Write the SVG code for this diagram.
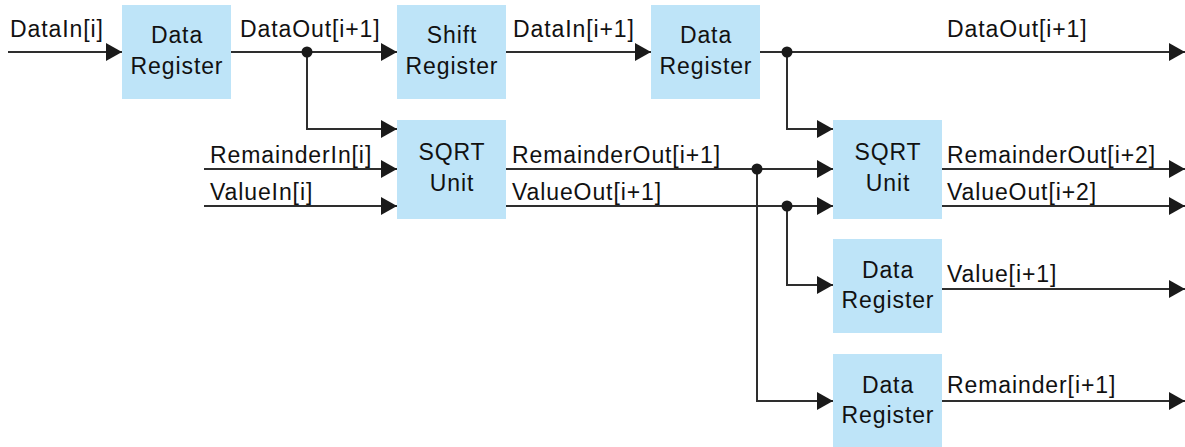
<svg xmlns="http://www.w3.org/2000/svg" width="1185" height="447" viewBox="0 0 1185 447">
  <style>
    .box { fill: #bee4f8; }
    .lbl { font-family: "Liberation Sans", Arial, sans-serif; font-size: 23px; letter-spacing: 0.9px; fill: #111; }
    .ctr { text-anchor: middle; }
    .wire { fill: none; stroke: #2e2e2e; stroke-width: 2; }
    .arr { marker-end: url(#head); }
    .dot { fill: #1a1a1a; }
  </style>
  <defs>
    <marker id="head" markerUnits="userSpaceOnUse" markerWidth="16" markerHeight="18" refX="16" refY="9" orient="auto">
      <path d="M0,0 L16,9 L0,18 z" fill="#1a1a1a"/>
    </marker>
  </defs>
  <rect width="1185" height="447" fill="#fff"/>

  <!-- connectors -->
  <g id="connectors">
    <path class="wire arr" d="M8,52 H122"/>
    <path class="wire arr" d="M231,52 H397"/>
    <path class="wire arr" d="M307,52 V129 H397"/>
    <path class="wire arr" d="M204,169 H397"/>
    <path class="wire arr" d="M204,206 H397"/>
    <path class="wire arr" d="M506,52 H651"/>
    <path class="wire arr" d="M760,52 H1185"/>
    <path class="wire arr" d="M787,52 V129 H833"/>
    <path class="wire arr" d="M506,169 H833"/>
    <path class="wire arr" d="M506,206 H833"/>
    <path class="wire arr" d="M757,169 V401 H833"/>
    <path class="wire arr" d="M787,206 V285 H833"/>
    <path class="wire arr" d="M942,169 H1185"/>
    <path class="wire arr" d="M942,206 H1185"/>
    <path class="wire arr" d="M942,289 H1185"/>
    <path class="wire arr" d="M942,401 H1185"/>
    <circle class="dot" cx="307" cy="52" r="5.5"/>
    <circle class="dot" cx="787" cy="52" r="5.5"/>
    <circle class="dot" cx="757" cy="169" r="5.5"/>
    <circle class="dot" cx="787" cy="206" r="5.5"/>

    <text class="lbl" x="10" y="37">DataIn[i]</text>
    <text class="lbl" x="240" y="37">DataOut[i+1]</text>
    <text class="lbl" x="513" y="37">DataIn[i+1]</text>
    <text class="lbl" x="947" y="37">DataOut[i+1]</text>
    <text class="lbl" x="210" y="163">RemainderIn[i]</text>
    <text class="lbl" x="210" y="200">ValueIn[i]</text>
    <text class="lbl" x="512" y="163">RemainderOut[i+1]</text>
    <text class="lbl" x="512" y="200">ValueOut[i+1]</text>
    <text class="lbl" x="947" y="163">RemainderOut[i+2]</text>
    <text class="lbl" x="947" y="200">ValueOut[i+2]</text>
    <text class="lbl" x="947" y="282">Value[i+1]</text>
    <text class="lbl" x="947" y="393">Remainder[i+1]</text>
  </g>

  <!-- nodes -->
  <g id="data-register-1">
    <rect class="box" x="122" y="5" width="109" height="94"/>
    <text class="lbl ctr" x="177" y="43">Data</text>
    <text class="lbl ctr" x="177" y="74">Register</text>
  </g>
  <g id="shift-register">
    <rect class="box" x="397" y="5" width="109" height="94"/>
    <text class="lbl ctr" x="452" y="43">Shift</text>
    <text class="lbl ctr" x="452" y="74">Register</text>
  </g>
  <g id="data-register-2">
    <rect class="box" x="651" y="5" width="109" height="94"/>
    <text class="lbl ctr" x="706" y="43">Data</text>
    <text class="lbl ctr" x="706" y="74">Register</text>
  </g>
  <g id="sqrt-unit-1">
    <rect class="box" x="397" y="120" width="109" height="99"/>
    <text class="lbl ctr" x="452" y="160">SQRT</text>
    <text class="lbl ctr" x="452" y="191">Unit</text>
  </g>
  <g id="sqrt-unit-2">
    <rect class="box" x="833" y="120" width="109" height="99"/>
    <text class="lbl ctr" x="888" y="160">SQRT</text>
    <text class="lbl ctr" x="888" y="191">Unit</text>
  </g>
  <g id="data-register-value">
    <rect class="box" x="833" y="239" width="109" height="94"/>
    <text class="lbl ctr" x="888" y="278">Data</text>
    <text class="lbl ctr" x="888" y="308">Register</text>
  </g>
  <g id="data-register-remainder">
    <rect class="box" x="833" y="354" width="109" height="93"/>
    <text class="lbl ctr" x="888" y="393">Data</text>
    <text class="lbl ctr" x="888" y="423">Register</text>
  </g>
</svg>
